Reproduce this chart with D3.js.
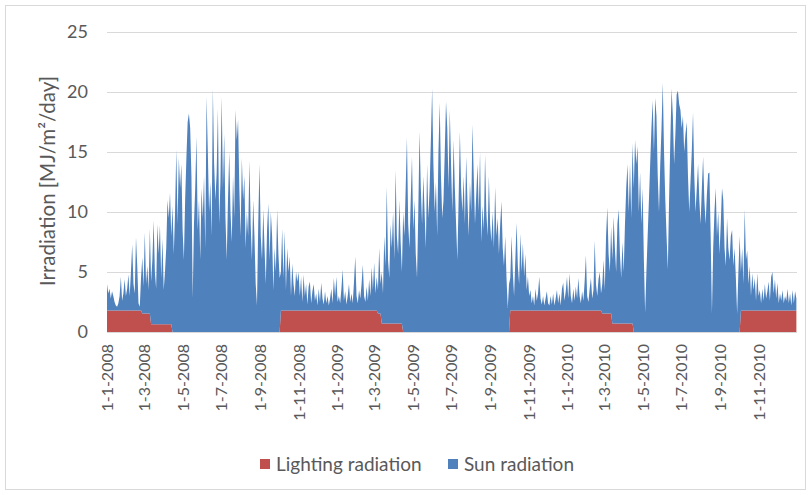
<!DOCTYPE html>
<html>
<head>
<meta charset="utf-8">
<script src="https://cdn.jsdelivr.net/npm/d3@7"></script>
<style>
  html, body { margin: 0; padding: 0; background: #fff; }
  svg { display: block; font-family: Lato, "Open Sans", sans-serif; }
</style>
</head>
<body>
<div id="chart"></div>
<script>
// series shown in the legend (bottom to top of the stack)
const seriesNames = ['Lighting radiation', 'Sun radiation'];
const seriesColors = ['#C0504D', '#4F81BD'];

const yTicks = [0, 5, 10, 15, 20, 25];
const xTickDates = [
  '2008-01-01', '2008-03-01', '2008-05-01', '2008-07-01', '2008-09-01', '2008-11-01',
  '2009-01-01', '2009-03-01', '2009-05-01', '2009-07-01', '2009-09-01', '2009-11-01',
  '2010-01-01', '2010-03-01', '2010-05-01', '2010-07-01', '2010-09-01', '2010-11-01'
];

// lighting radiation is a step series: value valid from the given date on
const lightingSteps = [
  ['2008-01-01', 1.8], ['2008-02-26', 1.55], ['2008-03-11', 0.65], ['2008-04-14', 0],
  ['2008-10-02', 1.8], ['2009-03-06', 1.55], ['2009-03-12', 0.7], ['2009-04-15', 0],
  ['2009-10-02', 1.8], ['2010-02-25', 1.55], ['2010-03-13', 0.7], ['2010-04-16', 0],
  ['2010-10-02', 1.8]
];

// sun radiation, MJ/m2/day, read every 2nd day starting 1-1-2008
const sunStart = '2008-01-01';
const sunStepDays = 2;
const sunRadiation = [
  // 2008
  2.2,1.4,1.8,1.0,1.6,1.2,0.7,0.4,0.3,0.6,1.2,2.8,0.8,1.4,2.6,1.2,
  1.8,3.0,1.2,3.2,5.5,2.2,1.4,6.1,3.7,0.6,0.3,2.7,4.65,2.25,6.75,
  2.45,3.95,1.95,7.05,3.55,5.35,8.65,4.35,2.95,8.35,5.85,8.25,3.85,7.15,2.85,4.35,
  6.35,10.35,8.85,10.95,7.35,10.5,6.5,10.0,15.2,9.0,14.5,12.0,14.0,8.5,
  6.0,11.0,14.5,17.5,18.2,17.0,13.0,2.8,9.0,12.0,16.3,8.5,11.0,6.0,12.0,9.5,
  13.0,7.0,19.6,15.0,10.0,12.5,8.0,20.3,14.0,11.0,13.2,18.6,9.0,12.5,19.6,
  12.0,16.5,9.5,6.0,11.0,15.0,10.0,7.5,13.0,9.5,18.5,16.0,17.7,12.0,8.0,
  14.5,11.0,13.0,7.0,10.0,8.0,14.3,9.0,6.0,11.0,8.0,4.0,2.2,9.0,14.0,8.0,
  6.0,10.2,7.0,4.0,8.5,10.7,6.0,10.0,8.0,3.5,7.0,5.0,10.2,6.5,4.5,
  3.2,6.8,2.7,6.6,1.7,5.2,3.2,4.5,1.2,3.9,2.2,1.2,3.2,2.4,3.2,1.2,
  2.8,0.7,3.0,1.2,2.2,0.5,2.0,2.4,0.6,1.6,2.2,0.8,1.4,0.4,1.8,
  0.7,2.3,1.0,0.5,1.6,0.6,1.2,0.4,1.0,1.8,0.6,2.7,1.2,2.8,0.7,
  // 2009
  1.2,0.6,1.8,3.4,0.8,1.6,0.5,1.2,2.2,0.7,1.4,0.6,2.4,4.5,1.2,0.6,
  1.7,1.0,2.2,3.8,1.2,0.7,2.0,0.8,2.6,1.2,3.6,1.7,4.0,1.4,2.8,
  1.95,5.45,2.45,4.3,2.5,7.3,4.8,11.4,5.3,3.8,8.3,6.3,9.3,5.3,12.8,
  7.3,5.8,10.3,6.8,4.3,10.0,8.0,12.0,16.2,9.0,7.0,11.0,14.6,8.5,
  11.0,6.5,4.5,10.0,16.7,12.0,9.0,13.0,10.0,7.0,14.0,9.5,12.0,16.0,20.3,
  14.0,10.0,12.5,8.0,15.0,19.1,13.0,9.5,11.0,15.0,19.2,17.0,12.0,18.5,14.0,10.0,
  16.0,12.0,9.0,6.0,11.0,16.7,12.0,10.0,13.0,9.0,14.6,11.0,8.0,12.5,10.0,17.3,
  13.0,9.0,11.5,14.0,10.0,15.0,7.5,10.5,8.5,14.8,10.0,8.0,13.0,9.0,7.5,
  10.0,7.0,12.1,8.0,9.5,6.5,9.0,10.9,7.0,5.5,8.0,4.5,2.0,4.0,
  2.7,6.2,3.2,1.2,4.2,7.3,3.7,2.2,6.4,3.2,5.6,2.8,4.7,1.7,2.8,1.2,
  1.7,0.6,1.2,0.4,1.8,0.8,1.4,2.8,1.0,0.5,1.2,0.4,1.0,1.6,0.6,
  0.4,1.2,0.5,1.4,0.4,1.0,1.7,0.6,1.4,0.4,1.8,2.3,0.8,1.6,
  // 2010
  2.8,1.0,3.1,1.2,0.6,1.8,0.8,2.0,1.0,2.7,1.2,0.6,1.6,0.8,
  2.4,4.6,1.2,0.7,1.8,2.7,1.0,1.7,5.8,2.2,1.2,2.6,3.2,1.4,
  2.45,4.45,1.95,6.45,8.85,4.95,3.45,7.25,5.3,8.9,6.3,4.3,8.3,
  9.5,5.8,3.8,6.8,4.3,8.3,11.3,13.3,9.3,13.3,8.8,15.0,
  12.0,16.0,14.0,15.5,10.0,13.3,9.0,12.0,6.0,1.6,5.0,8.0,11.0,14.0,17.0,
  19.3,15.0,19.5,18.0,13.0,10.0,14.0,17.0,20.8,15.0,11.0,8.0,5.2,11.0,16.0,
  20.3,18.0,14.0,16.5,19.8,20.1,19.0,18.5,17.0,18.0,15.0,16.5,17.5,13.0,10.0,
  12.5,15.0,18.3,13.0,10.0,12.0,14.0,11.0,9.0,12.0,14.6,11.0,9.0,11.5,13.2,
  13.3,8.0,1.5,7.0,10.0,12.0,8.0,10.0,6.5,9.0,12.0,11.0,7.0,5.5,9.5,
  7.0,6.0,8.0,8.5,5.5,7.0,4.5,1.5,5.0,8.0,
  3.2,5.2,2.2,8.4,4.2,5.0,2.2,3.7,1.2,3.1,1.7,2.7,0.8,3.1,1.2,
  1.7,0.6,1.8,0.8,2.2,1.0,1.6,2.4,0.8,2.8,3.2,1.4,2.6,1.0,2.3,
  0.6,1.4,0.8,1.7,0.6,1.2,0.8,1.8,0.6,1.4,0.4,1.7,0.6,1.6,1.0
];

const width = 812;
const height = 495;
const plot = { left: 107, right: 797, top: 32, bottom: 332 };
const textColor = '#595959';
const gridColor = '#d9d9d9';

const parse = d3.timeParse('%Y-%m-%d');
const fmt = d3.timeFormat('%-d-%-m-%Y');

const steps = lightingSteps.map(([d, v]) => ({ date: parse(d), value: v }));
const lightingAt = date => {
  let v = 0;
  steps.forEach(s => { if (s.date <= date) v = s.value; });
  return v;
};

const start = parse(sunStart);
const data = sunRadiation.map((v, i) => {
  const date = d3.timeDay.offset(start, i * sunStepDays);
  return { date, lighting: lightingAt(date), sun: v };
});

const svg = d3.select('#chart')
  .append('svg')
  .attr('width', width)
  .attr('height', height);

// outer chart border
svg.append('rect')
  .attr('x', 5.5).attr('y', 5.5)
  .attr('width', 800).attr('height', 484)
  .attr('fill', '#fff')
  .attr('stroke', gridColor);

const x = d3.scaleTime()
  .domain([parse('2008-01-01'), parse('2010-12-31')])
  .range([plot.left, plot.right]);

const y = d3.scaleLinear()
  .domain([0, 25])
  .range([plot.bottom, plot.top]);

// gridlines + y labels
yTicks.forEach(t => {
  svg.append('line')
    .attr('x1', plot.left).attr('x2', plot.right)
    .attr('y1', Math.round(y(t)) + 0.5).attr('y2', Math.round(y(t)) + 0.5)
    .attr('stroke', gridColor)
    .attr('stroke-width', 1);

  svg.append('text')
    .attr('x', 88)
    .attr('y', y(t))
    .attr('dy', '0.35em')
    .attr('text-anchor', 'end')
    .attr('font-size', 18)
    .attr('fill', textColor)
    .text(t);
});

// stacked areas
const stack = d3.stack().keys(['lighting', 'sun']);
const series = stack(data);

const area = d3.area()
  .x(d => x(d.data.date))
  .y0(d => y(d[0]))
  .y1(d => y(d[1]));

series.forEach((s, i) => {
  svg.append('path')
    .attr('d', area(s))
    .attr('fill', seriesColors[i]);
});

// x axis baseline
svg.append('line')
  .attr('x1', plot.left).attr('x2', plot.right)
  .attr('y1', plot.bottom + 0.5).attr('y2', plot.bottom + 0.5)
  .attr('stroke', gridColor);

// rotated date labels
xTickDates.forEach(d => {
  const date = parse(d);
  svg.append('text')
    .attr('transform', `translate(${x(date)},${plot.bottom + 12}) rotate(-90)`)
    .attr('dy', '0.35em')
    .attr('text-anchor', 'end')
    .attr('font-size', 16)
    .attr('fill', textColor)
    .text(fmt(date));
});

// y axis title
svg.append('text')
  .attr('transform', `translate(48,181) rotate(-90)`)
  .attr('dy', '0.35em')
  .attr('text-anchor', 'middle')
  .attr('font-size', 20.5)
  .attr('fill', textColor)
  .text('Irradiation [MJ/m²/day]');

// legend
const legendItems = [
  { name: seriesNames[0], color: seriesColors[0], x: 260 },
  { name: seriesNames[1], color: seriesColors[1], x: 448 }
];
legendItems.forEach(item => {
  svg.append('rect')
    .attr('x', item.x).attr('y', 459)
    .attr('width', 10).attr('height', 10)
    .attr('fill', item.color);
  svg.append('text')
    .attr('x', item.x + 16)
    .attr('y', 464)
    .attr('dy', '0.35em')
    .attr('font-size', 19)
    .attr('fill', textColor)
    .text(item.name);
});
</script>
</body>
</html>
